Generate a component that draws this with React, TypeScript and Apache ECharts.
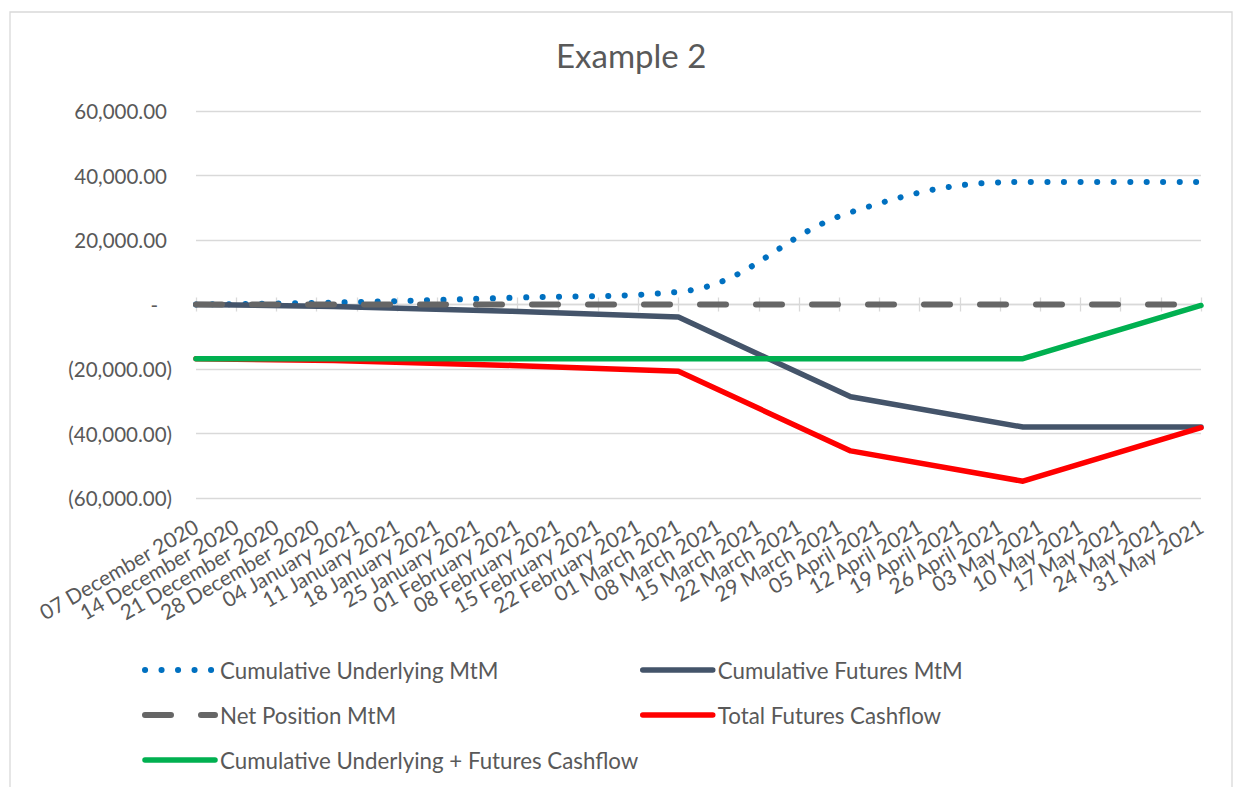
import React, { useEffect, useRef } from "react";
import * as echarts from "echarts";

// ---- data ----
const tickLabels = [
  "07 December 2020", "14 December 2020", "21 December 2020", "28 December 2020",
  "04 January 2021", "11 January 2021", "18 January 2021", "25 January 2021",
  "01 February 2021", "08 February 2021", "15 February 2021", "22 February 2021",
  "01 March 2021", "08 March 2021", "15 March 2021", "22 March 2021", "29 March 2021",
  "05 April 2021", "12 April 2021", "19 April 2021", "26 April 2021",
  "03 May 2021", "10 May 2021", "17 May 2021", "24 May 2021", "31 May 2021",
];
const pointDates = ["2020-12-07", "2020-12-31", "2021-01-31", "2021-03-01", "2021-03-31", "2021-04-30", "2021-05-31"];
const underlyingMtM = [0, 600, 2100, 3900, 28600, 38000, 38000];
const futuresMtM = [0, -600, -2100, -3900, -28600, -38000, -38000];
const netPositionMtM = [0, 0, 0, 0, 0, 0, 0];
const totalFuturesCashflow = [-16800, -17400, -18900, -20700, -45400, -54800, -38200];
const underlyingPlusCashflow = [-16800, -16800, -16800, -16800, -16800, -16800, -300];
const seriesNames = [
  "Cumulative Underlying MtM",
  "Cumulative Futures MtM",
  "Net Position MtM",
  "Total Futures Cashflow",
  "Cumulative Underlying + Futures Cashflow",
];

const FONT = "Lato";
const TEXT = "#595959";
const GRID_LINE = "#D9D9D9";
const DAY = 86400000;
const dayOffsets = pointDates.map((d) => (Date.parse(d) - Date.parse(pointDates[0])) / DAY);
const xMax = (tickLabels.length - 1) * 7;

const pair = (vals: number[]) => vals.map((v, i) => [dayOffsets[i], v]);
const fmt = (v: number) => v.toLocaleString("en-US", { minimumFractionDigits: 2, maximumFractionDigits: 2 });

const lineStyles: any[] = [
  { color: "#0070C0", width: 6, type: [0.1, 16.4], cap: "round" },
  { color: "#44546A", width: 5.5, type: "solid", cap: "round", join: "round" },
  { color: "#666666", width: 6, type: [26, 30], cap: "round" },
  { color: "#FF0000", width: 5.5, type: "solid", cap: "round", join: "round" },
  { color: "#00B050", width: 5.5, type: "solid", cap: "round", join: "round" },
];

export default function App() {
  const ref = useRef<HTMLDivElement>(null);
  useEffect(() => {
    const chart = echarts.init(ref.current!, null, { renderer: "svg" });
    const gridRect = { left: 196, right: 43, top: 111, bottom: 289, outerBoundsMode: "none", containLabel: false };
    const baseX = { type: "value", min: 0, max: xMax, interval: 7, splitLine: { show: false } };
    const yBase = { type: "value", min: -60000, max: 60000, interval: 20000 };
    const lineCommon = { type: "line", symbol: "none", showSymbol: false, xAxisIndex: 1, yAxisIndex: 0 };
    const legendText = { fontFamily: FONT, fontSize: 22.3, color: TEXT, lineHeight: 26 };
    const legendItem = (i: number) => ({
      name: seriesNames[i],
      itemStyle: { opacity: 0 },
      lineStyle: { ...lineStyles[i], width: lineStyles[i].width, opacity: 1 },
    });
    const legendBase = {
      orient: "vertical",
      top: 657,
      padding: 0,
      itemWidth: 70,
      itemHeight: 8,
      itemGap: 19,
      selectedMode: false,
      textStyle: legendText,
    };
    const option: any = {
      animation: false,
      backgroundColor: "#ffffff",
      title: {
        text: "Example 2",
        left: 556,
        top: 38,
        padding: 0,
        textStyle: { fontFamily: FONT, fontSize: 33, fontWeight: "normal", color: TEXT },
      },
      graphic: [
        {
          type: "rect",
          silent: true,
          shape: { x: 10, y: 12, width: 1222, height: 800 },
          style: { fill: "none", stroke: GRID_LINE, lineWidth: 1.3 },
        },
      ],
      grid: [gridRect, { ...gridRect }],
      xAxis: [
        {
          type: "category",
          data: tickLabels,
          boundaryGap: false,
          gridIndex: 0,
          position: "bottom",
          axisLine: { show: false, onZero: false },
          axisTick: { show: false },
          splitLine: { show: false },
          axisLabel: {
            show: true,
            interval: 0,
            rotate: 30,
            margin: 26,
            hideOverlap: false,
            fontFamily: FONT,
            fontSize: 21,
            color: TEXT,
          },
        },
        {
          ...baseX,
          gridIndex: 0,
          position: "top",
          axisLine: { show: true, onZero: true, lineStyle: { color: GRID_LINE, width: 1.3 } },
          axisTick: { show: true, length: 7, lineStyle: { color: GRID_LINE, width: 1.3 } },
          axisLabel: { show: false },
        },
        {
          ...baseX,
          gridIndex: 1,
          position: "bottom",
          axisLine: { show: false, onZero: true },
          axisTick: { show: true, length: 7, lineStyle: { color: GRID_LINE, width: 1.3 } },
          axisLabel: { show: false },
        },
      ],
      yAxis: [
        {
          ...yBase,
          gridIndex: 0,
          axisLine: { show: false },
          axisTick: { show: false },
          splitLine: { show: true, lineStyle: { color: GRID_LINE, width: 1.3 } },
          axisLabel: {
            margin: 24,
            fontFamily: FONT,
            fontSize: 20.5,
            color: TEXT,
            formatter: (v: number) =>
              v === 0 ? "{z|-}" : v > 0 ? `{p|${fmt(v)}}` : `{n|(${fmt(-v)})}`,
            rich: {
              p: { padding: [0, 5, 0, 0], fontFamily: FONT, fontSize: 20.5, color: TEXT },
              z: { padding: [0, 14, 0, 0], fontFamily: FONT, fontSize: 20.5, color: TEXT },
              n: { fontFamily: FONT, fontSize: 20.5, color: TEXT },
            },
          },
        },
        { ...yBase, gridIndex: 1, show: false },
      ],
      legend: [
        { ...legendBase, left: 142, data: [legendItem(0), legendItem(2), legendItem(4)] },
        { ...legendBase, left: 640, data: [legendItem(1), legendItem(3)] },
      ],
      series: seriesNames.map((name, i) => ({
        ...lineCommon,
        name,
        data: pair([underlyingMtM, futuresMtM, netPositionMtM, totalFuturesCashflow, underlyingPlusCashflow][i]),
        smooth: i === 0 ? 0.4 : false,
        color: lineStyles[i].color,
        lineStyle: lineStyles[i],
      })),
    };
    chart.setOption(option);
    return () => chart.dispose();
  }, []);
  return (
    <div
      ref={ref}
      style={{ position: "fixed", left: 0, top: 0, width: 1244, height: 787, background: "#ffffff" }}
    />
  );
}
